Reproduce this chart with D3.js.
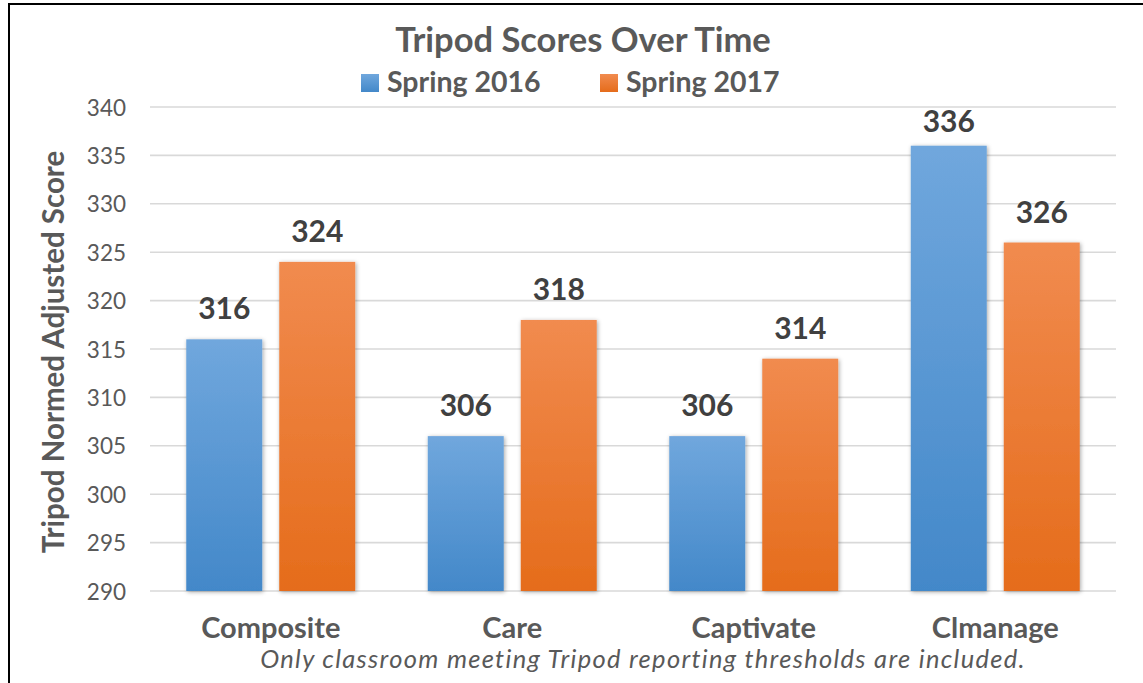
<!DOCTYPE html>
<html>
<head>
<meta charset="utf-8">
<script src="https://cdn.jsdelivr.net/npm/d3@7"></script>
<style>
  body { margin: 0; background: #fff; }
  svg { display: block; font-family: Lato, "Open Sans", sans-serif; }
</style>
</head>
<body>
<div id="chart"></div>
<script>
// données du graphique
const categories = ["Composite", "Care", "Captivate", "Clmanage"];
const seriesNames = ["Spring 2016", "Spring 2017"];
const spring2016 = [316, 306, 306, 336];
const spring2017 = [324, 318, 314, 326];
const yTicks = [290, 295, 300, 305, 310, 315, 320, 325, 330, 335, 340];

const width = 1143, height = 683;
const margin = { top: 107, right: 27, bottom: 92, left: 150 };
const textGray = "#595959";

const svg = d3.select("#chart").append("svg")
    .attr("width", width)
    .attr("height", height);

const defs = svg.append("defs");
// dégradés des barres
const grads = [
    { id: "gBlue", top: "#70a7dd", bottom: "#4388c9" },
    { id: "gOrange", top: "#f18b4f", bottom: "#e56c1b" }
];
grads.forEach(g => {
    const lg = defs.append("linearGradient").attr("id", g.id)
        .attr("x1", 0).attr("y1", 0).attr("x2", 0).attr("y2", 1);
    lg.append("stop").attr("offset", "0%").attr("stop-color", g.top);
    lg.append("stop").attr("offset", "100%").attr("stop-color", g.bottom);
});
const shadow = defs.append("filter").attr("id", "shadow")
    .attr("x", "-20%").attr("y", "-20%").attr("width", "140%").attr("height", "140%");
shadow.append("feDropShadow")
    .attr("dx", 1).attr("dy", 1).attr("stdDeviation", 2.2)
    .attr("flood-color", "#000").attr("flood-opacity", 0.35);

// cadre (coin supérieur gauche seulement)
svg.append("path")
    .attr("d", `M9,${height} V4 H${width}`)
    .attr("fill", "none").attr("stroke", "#000").attr("stroke-width", 2);

const x = d3.scaleBand()
    .domain(categories)
    .range([margin.left, width - margin.right]);

const xSub = d3.scaleBand()
    .domain(seriesNames)
    .range([0, x.bandwidth()])
    .paddingInner(0.183)
    .paddingOuter(0.39);

const y = d3.scaleLinear()
    .domain([290, 340])
    .range([height - margin.bottom, margin.top]);

// grille
svg.append("g")
    .selectAll("line")
    .data(yTicks)
    .join("line")
    .attr("x1", margin.left).attr("x2", width - margin.right)
    .attr("y1", d => y(d)).attr("y2", d => y(d))
    .attr("stroke", "#d9d9d9").attr("stroke-width", 1.6);

// axe Y
const yAxis = svg.append("g")
    .attr("transform", `translate(${margin.left - 24},0)`)
    .call(d3.axisLeft(y).tickValues(yTicks).tickSize(0).tickPadding(0));
yAxis.select(".domain").remove();
yAxis.selectAll("text")
    .attr("font-family", "Lato, sans-serif")
    .attr("font-size", 22.5)
    .attr("fill", textGray)
    .attr("dy", "0.36em");

// barres
const rows = categories.map((c, i) => ({ cat: c, values: [spring2016[i], spring2017[i]] }));
const group = svg.append("g").selectAll("g")
    .data(rows)
    .join("g")
    .attr("transform", d => `translate(${x(d.cat)},0)`);

group.selectAll("rect")
    .data(d => d.values.map((v, j) => ({ key: seriesNames[j], v, j })))
    .join("rect")
    .attr("x", d => xSub(d.key))
    .attr("width", xSub.bandwidth())
    .attr("y", d => y(d.v))
    .attr("height", d => y(290) - y(d.v))
    .attr("fill", d => `url(#${grads[d.j].id})`)
    .attr("filter", "url(#shadow)");

// étiquettes de valeurs (restent dans la zone du graphique)
group.selectAll("text")
    .data(d => d.values.map((v, j) => ({ key: seriesNames[j], v })))
    .join("text")
    .attr("x", d => xSub(d.key) + xSub.bandwidth() / 2)
    .attr("y", d => Math.max(y(d.v) - 20, margin.top + 25))
    .attr("text-anchor", "middle")
    .attr("font-weight", "bold")
    .attr("font-size", 30)
    .attr("fill", "#404040")
    .text(d => d.v);

// axe X
const xAxis = svg.append("g")
    .attr("transform", `translate(0,${height - margin.bottom})`)
    .call(d3.axisBottom(x).tickSize(0).tickPadding(0));
xAxis.select(".domain").remove();
xAxis.selectAll("text")
    .attr("font-family", "Lato, sans-serif")
    .attr("font-size", 29)
    .attr("font-weight", "bold")
    .attr("fill", textGray)
    .attr("dy", 0)
    .attr("y", 46.5);

// titre
svg.append("text")
    .attr("x", 583).attr("y", 52)
    .attr("text-anchor", "middle")
    .attr("font-size", 34.5).attr("font-weight", "bold")
    .attr("fill", textGray)
    .text("Tripod Scores Over Time");

// légende
const legendX = [361, 600];
const legend = svg.append("g").selectAll("g")
    .data(seriesNames)
    .join("g")
    .attr("transform", (d, i) => `translate(${legendX[i]},92)`);
legend.append("rect")
    .attr("y", -18).attr("width", 18).attr("height", 18)
    .attr("fill", (d, i) => `url(#${grads[i].id})`);
legend.append("text")
    .attr("x", 26)
    .attr("font-size", 28.5).attr("font-weight", "bold")
    .attr("fill", textGray)
    .text(d => d);

// titre axe Y
svg.append("text")
    .attr("transform", "translate(64,352) rotate(-90)")
    .attr("text-anchor", "middle")
    .attr("font-size", 29.5).attr("font-weight", "bold")
    .attr("fill", textGray)
    .text("Tripod Normed Adjusted Score");

// note
svg.append("text")
    .attr("x", 643).attr("y", 668)
    .attr("text-anchor", "middle")
    .attr("font-size", 25.5).attr("font-style", "italic")
    .attr("letter-spacing", 1.3)
    .attr("fill", textGray)
    .text("Only classroom meeting Tripod reporting thresholds are included.");
</script>
</body>
</html>
